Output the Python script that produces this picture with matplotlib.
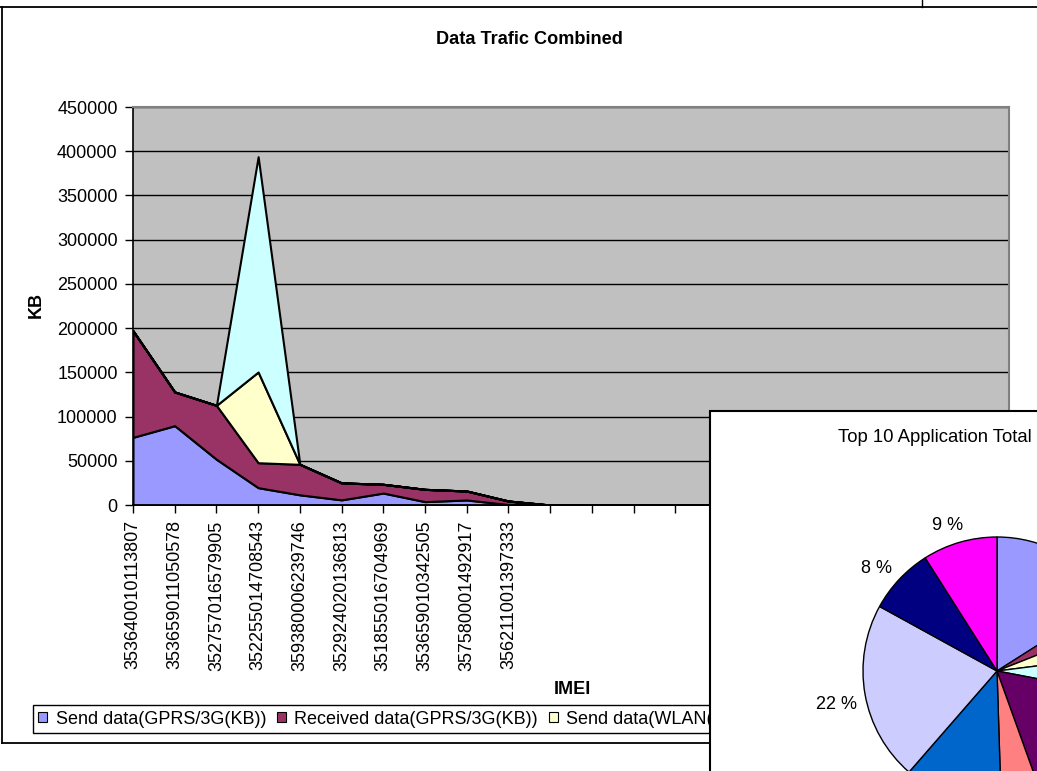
import matplotlib
matplotlib.use('Agg')
import matplotlib.pyplot as plt
from matplotlib.patches import Rectangle, Patch
from matplotlib.lines import Line2D
import matplotlib.transforms as mtransforms

plt.rcParams['font.family'] = ['Liberation Sans', 'DejaVu Sans']

W, H = 1037, 771

# ---------------- data ----------------
imei = ['353640010113807', '353659011050578', '352757016579905', '352255014708543',
        '359380006239746', '352924020136813', '351855016704969', '353659010342505',
        '357580001492917', '356211001397333',
        '', '', '', '', '', '', '', '', '', '', '', '']
send_gprs = [76500, 89700, 51700, 19600, 11500, 5800, 13500, 3800, 5700, 500,
             0, 0, 0, 0, 0, 0, 0, 0, 0, 0, 0, 0]
recv_gprs = [120500, 38100, 61000, 28200, 34500, 19200, 9900, 13900, 10100, 4000,
             0, 0, 0, 0, 0, 0, 0, 0, 0, 0, 0, 0]
send_wlan = [0, 0, 0, 102600, 0, 0, 0, 0, 0, 0,
             0, 0, 0, 0, 0, 0, 0, 0, 0, 0, 0, 0]
recv_wlan = [0, 0, 0, 243400, 0, 0, 0, 0, 0, 0,
             0, 0, 0, 0, 0, 0, 0, 0, 0, 0, 0, 0]
series_names = ['Send data(GPRS/3G(KB))', 'Received data(GPRS/3G(KB))',
                'Send data(WLAN(KB))', 'Received data(WLAN(KB))']
series_colors = ['#9999FF', '#993366', '#FFFFCC', '#CCFFFF']
y_ticks = [0, 50000, 100000, 150000, 200000, 250000, 300000, 350000, 400000, 450000]

app_share = [16, 3, 4, 5, 16.5, 5, 11.9, 21.6, 8, 9]
app_colors = ['#9999FF', '#993366', '#FFFFCC', '#CCFFFF', '#660066',
              '#FF8080', '#0066CC', '#CCCCFF', '#000080', '#FF00FF']

# ---------------- figure ----------------
fig = plt.figure(figsize=(W / 100, H / 100), dpi=100)
fig.patch.set_facecolor('white')


def fx(px):
    return px / W


def fy(py):
    return 1 - py / H


# spreadsheet cell border + chart frame
fig.add_artist(Line2D([0, 1], [fy(7), fy(7)], color='black', lw=1.3, zorder=1))
fig.add_artist(Line2D([fx(922), fx(922)], [fy(0), fy(7)], color='black', lw=1.0, zorder=1))
fig.add_artist(Line2D([fx(1.5), fx(1.5)], [fy(7), fy(743)], color='black', lw=1.3, zorder=1))
fig.add_artist(Line2D([fx(1.5), 1], [fy(743), fy(743)], color='black', lw=1.3, zorder=1))

# main area chart
ax = fig.add_axes([fx(133), fy(505), fx(1009) - fx(133), fy(107) - fy(505)])
ax.set_facecolor('#C0C0C0')
x = list(range(len(imei)))
ax.stackplot(x, send_gprs, recv_gprs, send_wlan, recv_wlan,
             colors=series_colors, edgecolor='black', linewidth=1.5)
ax.set_xlim(0, len(imei) - 1)
ax.set_ylim(0, 450000)
ax.set_yticks(y_ticks)
ax.set_yticklabels([str(v) for v in y_ticks])
ax.set_xticks(x)
ax.set_xticklabels(imei, rotation=90)
ax.yaxis.grid(True, color='black', lw=1.0)
ax.set_axisbelow(True)
ax.tick_params(axis='both', direction='out', length=6, width=1, color='black',
               labelsize=13, pad=5)
for side in ['top', 'right']:
    ax.spines[side].set_color('#808080')
    ax.spines[side].set_linewidth(1.5)
for side in ['left', 'bottom']:
    ax.spines[side].set_color('black')
    ax.spines[side].set_linewidth(1.2)

fig.text(fx(529), fy(40), 'Data Trafic Combined', ha='center', va='center',
         fontsize=13.1, fontweight='bold')
fig.text(fx(36), fy(305), 'KB', ha='center', va='center', rotation=90,
         fontsize=13, fontweight='bold')
fig.text(fx(572), fy(690), 'IMEI', ha='center', va='center',
         fontsize=13, fontweight='bold')

handles = [Patch(facecolor=c, edgecolor='black', lw=0.8) for c in series_colors]
leg = ax.legend(handles, series_names, loc='lower left',
                bbox_to_anchor=(fx(33), fy(733)), bbox_transform=fig.transFigure,
                ncol=4, frameon=True, fancybox=False, edgecolor='black',
                framealpha=1, fontsize=13, handlelength=0.5, handleheight=0.5,
                handletextpad=0.45, columnspacing=0.6, borderpad=0.3,
                borderaxespad=0)
leg.get_frame().set_linewidth(1.0)
# the legend disappears under the pie-chart object on the right
clip = mtransforms.TransformedBbox(mtransforms.Bbox([[0, 0], [fx(710), 1]]),
                                   fig.transFigure)
for a in leg.findobj():
    if a is not leg:
        a.set_clip_box(clip)
        a.set_clip_on(True)

# overlapping pie chart object
fig.add_artist(Rectangle((fx(710), fy(800)), fx(400), fy(411) - fy(800),
                         facecolor='white', edgecolor='black', lw=1.5, zorder=2,
                         transform=fig.transFigure))
fig.text(fx(838), fy(437), 'Top 10 Application Total usage (KB)', ha='left',
         va='center', fontsize=13.3, zorder=4)

cx, cy, r = 997, 671, 134
pax = fig.add_axes([fx(cx - r), fy(cy + r), fx(2 * r), fy(cy - r) - fy(cy + r)])
pax.set_zorder(3)
pax.patch.set_alpha(0)
wedges, texts, autotexts = pax.pie(
    app_share, colors=app_colors, startangle=90, counterclock=False,
    wedgeprops=dict(edgecolor='black', linewidth=1.0),
    autopct=lambda p: '%.0f %%' % p, pctdistance=1.18,
    textprops=dict(fontsize=13))
pax.set_xlim(-1, 1)
pax.set_ylim(-1, 1)
pax.set_aspect('equal')
pax.axis('off')

# labels sit a few pixels lower in the original; drop those that fall off the canvas
fig.canvas.draw()
shift = mtransforms.ScaledTranslation(-5 / 100, -6 / 100, fig.dpi_scale_trans)
for t in autotexts:
    t.set_transform(t.get_transform() + shift)
fig.canvas.draw()
renderer = fig.canvas.get_renderer()
for t in autotexts:
    bb = t.get_window_extent(renderer)
    if bb.x1 > W - 1 or bb.y0 < 1:
        t.remove()

fig.savefig('out.png', dpi=100, facecolor='white')
